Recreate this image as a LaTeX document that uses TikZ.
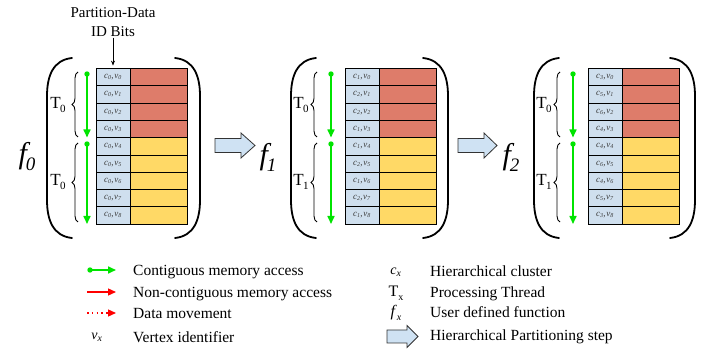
\documentclass[tikz,border=0pt]{standalone}
\usepackage{fontspec}
\setmainfont{Liberation Serif}
\usetikzlibrary{arrows.meta,decorations.pathreplacing,calc}
\definecolor{idblue}{HTML}{CFDFEE}
\definecolor{datared}{HTML}{DE7C6A}
\definecolor{datayel}{HTML}{FFD966}
\definecolor{acgreen}{HTML}{00E400}
\definecolor{arrblue}{HTML}{CFE2F3}
\definecolor{lblgray}{HTML}{3A3A3A}
\definecolor{accred}{HTML}{FF0000}

\newcommand\cvlab[2]{\textit{c}\textsubscript{\textit{#1}}\kern-0.3pt,\kern0.6pt\textit{v}\textsubscript{\textit{#2}}}
\newcommand\bigf[1]{{\fontsize{30}{30}\selectfont\itshape f}\kern-1pt\raisebox{-7pt}{\fontsize{19}{19}\selectfont\itshape #1}}
\newcommand\thr[1]{{\fontsize{17}{17}\selectfont T}\kern-0.5pt\raisebox{-4pt}{\fontsize{11}{11}\selectfont #1}}

\tikzset{
 idcell/.style={draw=black, line width=0.8pt, fill=idblue, minimum width=34pt, minimum height=17.3pt, inner sep=0pt, font=\fontsize{9}{9}\selectfont, text=lblgray},
 datacell/.style={draw=black, line width=0.8pt, minimum width=56.5pt, minimum height=17.3pt, inner sep=0pt},
 paren/.style={line width=1.8pt, line cap=round},
 tbrace/.style={decorate, decoration={brace, amplitude=6pt}, line width=0.9pt},
 gacc/.style={acgreen, line width=1.6pt, -{Triangle[length=8pt,width=7pt]}},
 gdot/.style={fill=acgreen},
 racc/.style={accred, line width=1.3pt, -{Triangle[length=8pt,width=7pt]}},
 rmove/.style={accred, line width=1.3pt, dash pattern=on 1.6pt off 3.2pt, -{Triangle[length=8pt,width=7pt]}},
 ptr/.style={black, line width=0.7pt, -{Stealth[length=5pt,width=4pt]}},
 blockarr/.style={draw=black!80, line width=0.8pt, fill=arrblue},
 legtext/.style={anchor=base west, inner sep=0pt, font=\fontsize{15.5}{18}\selectfont},
 legsym/.style={inner sep=0pt},
}

% #1 name, #2 table left x, #3 list i/c, #4 left paren x, #5 right paren x,
% #6 brace x, #7 T label x, #8 green arrow x, #9 second thread index
\newcommand\drawpanel[9]{%
 \foreach \i/\c in {#3} {
  \pgfmathsetmacro\yc{68.5+17.3*\i+8.65}
  \ifnum\i<4 \def\dc{datared}\else\def\dc{datayel}\fi
  \node[idcell] (#1id\i) at (#2+17,\yc) {\cvlab{\c}{\i}};
  \node[datacell, fill=\dc, anchor=west] (#1d\i) at (#1id\i.east) {};
 }
 \draw[paren] (#4+25,58) .. controls (#4+6,60) and (#4,76) .. (#4,96) -- (#4,200) .. controls (#4,220) and (#4+6,236) .. (#4+25,238);
 \draw[paren] (#5-25,58) .. controls (#5-6,60) and (#5,76) .. (#5,96) -- (#5,200) .. controls (#5,220) and (#5-6,236) .. (#5-25,238);
 \draw[tbrace] (#6,137) -- (#6,72);
 \draw[tbrace] (#6,222) -- (#6,143);
 \node[inner sep=0pt] (#1t0) at (#7,104.5) {\thr{0}};
 \node[inner sep=0pt] (#1t1) at (#7,182) {\thr{#9}};
 \coordinate (#1g0s) at (#8,74);
 \coordinate (#1g0e) at (#8,137.5);
 \coordinate (#1g1s) at (#8,144);
 \coordinate (#1g1e) at (#8,224);
 \draw[gacc] (#1g0s) -- (#1g0e);
 \draw[gacc] (#1g1s) -- (#1g1e);
 \fill[gdot] (#1g0s) circle (2.7pt);
 \fill[gdot] (#1g1s) circle (2.7pt);
}

% block arrow: #1 x0, #2 x1, #3 head start x, #4 y, #5 shaft half, #6 head half
\newcommand\blockarrow[6]{%
 \draw[blockarr] (#1,#4-#5) -- (#3,#4-#5) -- (#3,#4-#6) -- (#2,#4) -- (#3,#4+#6) -- (#3,#4+#5) -- (#1,#4+#5) -- cycle;
}

\begin{document}
\begin{tikzpicture}[x=1pt,y=-1pt]
\useasboundingbox (0,0) rectangle (718,352);

\drawpanel{A}{96}{0/0,1/0,2/0,3/0,4/0,5/0,6/0,7/0,8/0}{47}{200}{78}{58}{87}{0}
\drawpanel{B}{345}{0/1,1/2,2/2,3/1,4/1,5/2,6/1,7/2,8/1}{291}{448}{317}{301}{331}{1}
\drawpanel{C}{588}{0/3,1/5,2/6,3/4,4/4,5/6,6/4,7/5,8/3}{534}{695}{560}{544}{573}{1}

\node[inner sep=0pt] (f0) at (27,157) {\bigf{0}};
\node[inner sep=0pt] (f1) at (268,157) {\bigf{1}};
\node[inner sep=0pt] (f2) at (511,157) {\bigf{2}};

\blockarrow{215}{255}{241}{145.5}{7}{12.5}
\blockarrow{458}{497}{484}{145.5}{7}{12.5}

\node[align=center, font=\fontsize{15}{19}\selectfont, inner sep=1pt] (pdid) at (113,22) {Partition-Data\\ID Bits};
\draw[ptr] (pdid.south) -- ([yshift=2.5pt]Aid0.north);

% legend left
\coordinate (lg1s) at (90,270);
\coordinate (lg1e) at (116,270);
\draw[gacc] (lg1s) -- (lg1e);
\fill[gdot] (lg1s) circle (2.7pt);
\coordinate (lg2s) at (87,292);
\coordinate (lg2e) at (116,292);
\draw[racc] (lg2s) -- (lg2e);
\coordinate (lg3s) at (87,313);
\coordinate (lg3e) at (116,313);
\draw[rmove] (lg3s) -- (lg3e);
\node[legsym, font=\fontsize{14}{14}\selectfont] (lgv) at (97,337) {\textit{v}\textsubscript{\textit{x}}};

\node[legtext] (lt1) at (133,276) {Contiguous memory access};
\node[legtext] (lt2) at (133,298) {Non-contiguous memory access};
\node[legtext] (lt3) at (133,319) {Data movement};
\node[legtext] (lt4) at (133,343) {Vertex identifier};

% legend right
\node[legsym, font=\fontsize{14}{14}\selectfont] (lgc) at (396,272) {\textit{c}\textsubscript{\textit{x}}};
\node[legsym, font=\fontsize{16}{16}\selectfont] (lgt) at (396,293) {T\raisebox{-4pt}{\fontsize{10}{10}\selectfont x}};
\node[legsym, font=\fontsize{16}{16}\selectfont] (lgf) at (396,313) {\textit{f}\raisebox{-4pt}{\fontsize{10}{10}\selectfont\itshape x}};
\blockarrow{387}{418}{407}{336.5}{6.5}{11}

\node[legtext] (rt1) at (430,277) {Hierarchical cluster};
\node[legtext] (rt2) at (430,298) {Processing Thread};
\node[legtext] (rt3) at (430,318) {User defined function};
\node[legtext] (rt4) at (430,341) {Hierarchical Partitioning step};
\end{tikzpicture}
\end{document}
